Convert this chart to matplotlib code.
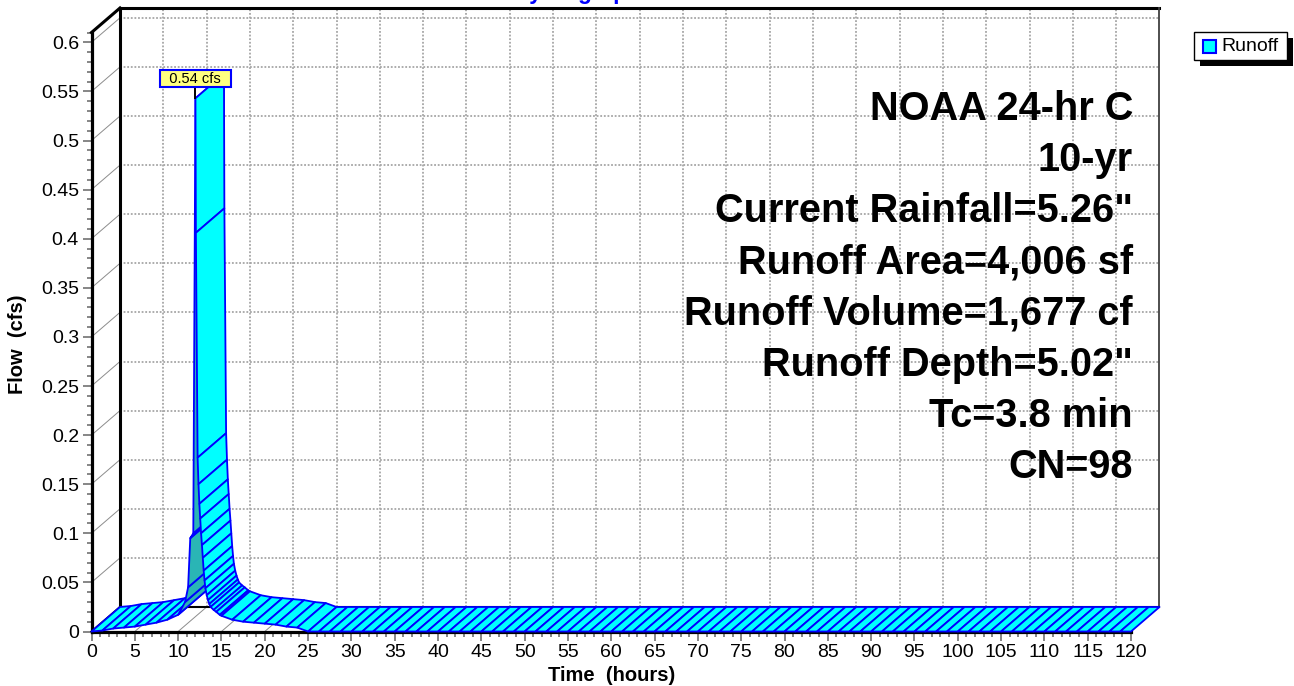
import matplotlib
matplotlib.use("Agg")
import matplotlib.pyplot as plt
from matplotlib.patches import Polygon, Rectangle
from matplotlib.ticker import MultipleLocator, FixedLocator
import numpy as np

plt.rcParams['font.family'] = ['Liberation Sans', 'DejaVu Sans']

# ---------------- data ----------------
time_hr = [0, 1.25, 2.5, 3.75, 5, 6.25, 7.5, 8.75, 10, 10.8, 11.15, 11.4, 11.75,
           12.0, 12.05, 12.25, 12.35, 12.45, 12.55, 12.65, 12.75, 12.85, 12.95,
           13.05, 13.15, 13.3, 13.45, 13.6, 13.75, 14.1, 14.4, 14.8, 15.0,
           16.25, 17.5, 18.75, 20, 21.25, 22.5, 23.75, 25,
           26.25, 27.5, 28.75, 30, 31.25, 32.5, 33.75, 35, 36.25, 37.5, 38.75,
           40, 41.25, 42.5, 43.75, 45, 46.25, 47.5, 48.75, 50, 51.25, 52.5,
           53.75, 55, 56.25, 57.5, 58.75, 60, 61.25, 62.5, 63.75, 65, 66.25,
           67.5, 68.75, 70, 71.25, 72.5, 73.75, 75, 76.25, 77.5, 78.75, 80,
           81.25, 82.5, 83.75, 85, 86.25, 87.5, 88.75, 90, 91.25, 92.5, 93.75,
           95, 96.25, 97.5, 98.75, 100, 101.25, 102.5, 103.75, 105, 106.25,
           107.5, 108.75, 110, 111.25, 112.5, 113.75, 115, 116.25, 117.5,
           118.75, 120]
flow_cfs = [0.0, 0.001, 0.003, 0.004, 0.005, 0.007, 0.009, 0.012, 0.017, 0.030,
            0.045, 0.095, 0.100,
            0.543, 0.406, 0.177, 0.150, 0.130, 0.115, 0.100, 0.088, 0.075, 0.062,
            0.052, 0.044, 0.037, 0.032, 0.028, 0.025, 0.022, 0.020, 0.017, 0.016,
            0.012, 0.010, 0.009, 0.008, 0.007, 0.005, 0.004, 0.0,
            0, 0, 0, 0, 0, 0, 0, 0, 0, 0, 0,
            0, 0, 0, 0, 0, 0, 0, 0, 0, 0, 0,
            0, 0, 0, 0, 0, 0, 0, 0, 0, 0, 0,
            0, 0, 0, 0, 0, 0, 0, 0, 0, 0, 0,
            0, 0, 0, 0, 0, 0, 0, 0, 0, 0, 0,
            0, 0, 0, 0, 0, 0, 0, 0, 0, 0, 0,
            0, 0, 0, 0, 0, 0, 0, 0, 0, 0]

x_ticks = [0, 5, 10, 15, 20, 25, 30, 35, 40, 45, 50, 55, 60, 65, 70, 75, 80,
           85, 90, 95, 100, 105, 110, 115, 120]
x_tick_labels = [str(v) for v in x_ticks]
y_ticks = [0, 0.05, 0.1, 0.15, 0.2, 0.25, 0.3, 0.35, 0.4, 0.45, 0.5, 0.55, 0.6]
y_tick_labels = ['0', '0.05', '0.1', '0.15', '0.2', '0.25', '0.3', '0.35',
                 '0.4', '0.45', '0.5', '0.55', '0.6']

peak_label = '0.54 cfs'
series_name = 'Runoff'
info_lines = ['NOAA 24-hr C', '10-yr', 'Current Rainfall=5.26"',
              'Runoff Area=4,006 sf', 'Runoff Volume=1,677 cf',
              'Runoff Depth=5.02"', 'Tc=3.8 min', 'CN=98']
title_text = 'Hydrograph'
x_label = 'Time  (hours)'
y_label = 'Flow  (cfs)'

# ---------------- style / layout ----------------
W, H = 1294, 686
CYAN = '#00FFFF'
SHADE = '#2AB5B5'
BLUE = '#0000FF'
GRIDC = '#a6a6a6'
X_MAX, Y_MAX = 120, 0.61
DX, DY = 3.29, 0.02495   # depth offset of back wall, in data units

fig = plt.figure(figsize=(W / 100, H / 100), dpi=100)
fig.patch.set_facecolor('white')
ax_left, ax_right, ax_top, ax_bot = 91.5, 1131.0, 32.5, 631.5
ax = fig.add_axes([ax_left / W, (H - ax_bot) / H,
                   (ax_right - ax_left) / W, (ax_bot - ax_top) / H])
ax.set_xlim(0, X_MAX)
ax.set_ylim(0, Y_MAX)
ax.patch.set_visible(False)

# back wall
ax.add_patch(Rectangle((DX, DY), X_MAX, Y_MAX, fc='white', ec='none',
                       zorder=0, clip_on=False))
for t in x_ticks[1:-1]:
    ax.plot([t + DX, t + DX], [DY, Y_MAX + DY], color=GRIDC, lw=1.3,
            ls=(0, (1, 1)), zorder=1, clip_on=False)
for f in y_ticks[1:]:
    ax.plot([DX, X_MAX + DX], [f + DY, f + DY], color=GRIDC, lw=1.3,
            ls=(0, (1, 1)), zorder=1, clip_on=False)
# connectors from front ticks to back wall
for f in y_ticks[1:]:
    ax.plot([0, DX], [f, f + DY], color='#8c8c8c', lw=0.7, zorder=1, clip_on=False)
for t in x_ticks[1:-1]:
    ax.plot([t, t + DX], [0, DY], color='#8c8c8c', lw=0.7, zorder=1, clip_on=False)
# back wall frame
ax.plot([DX, DX], [DY, Y_MAX + DY], color='black', lw=2.2, zorder=2, clip_on=False)
ax.plot([DX, X_MAX + DX], [Y_MAX + DY, Y_MAX + DY], color='black', lw=2.2,
        zorder=2, clip_on=False)
ax.plot([X_MAX + DX, X_MAX + DX], [DY, Y_MAX + DY], color='#404040', lw=1.3,
        zorder=2, clip_on=False)
ax.plot([DX, X_MAX + DX], [DY, DY], color='black', lw=1.5, zorder=2, clip_on=False)
ax.plot([0, DX], [Y_MAX, Y_MAX + DY], color='black', lw=2.2, zorder=2, clip_on=False)
ax.plot([0, DX], [0, DY], color='black', lw=1.5, zorder=2, clip_on=False)

# axes styling
for s in ['top', 'right']:
    ax.spines[s].set_visible(False)
for s in ['left', 'bottom']:
    ax.spines[s].set_linewidth(2.3)
    ax.spines[s].set_color('black')
ax.xaxis.set_major_locator(FixedLocator(x_ticks))
ax.set_xticklabels(x_tick_labels)
ax.xaxis.set_minor_locator(MultipleLocator(1))
ax.yaxis.set_major_locator(FixedLocator(y_ticks))
ax.set_yticklabels(y_tick_labels)
ax.yaxis.set_minor_locator(MultipleLocator(0.01))
ax.tick_params(which='major', length=6.5, width=1.1, color='#666666',
               labelsize=14, pad=2.5)
ax.tick_params(which='minor', length=3.8, width=1.1, color='#666666')
ax.set_xlabel(x_label, fontsize=14.5, fontweight='bold')
ax.set_ylabel(y_label, fontsize=14.5, fontweight='bold')
ax.xaxis.set_label_coords(0.5, -0.058)
ax.yaxis.set_label_coords(-0.062, 0.48)

# ribbon hydrograph
T = np.asarray(time_hr, dtype=float)
F = np.asarray(flow_cfs, dtype=float)
to_px = ax.transData.transform
for i in range(len(T) - 1):
    p0 = (T[i], F[i])
    p1 = (T[i + 1], F[i + 1])
    q = [p0, p1, (T[i + 1] + DX, F[i + 1] + DY), (T[i] + DX, F[i] + DY)]
    a = to_px(p0)
    sv = to_px(p1) - a
    dv = to_px((T[i] + DX, F[i] + DY)) - a
    cross = sv[0] * dv[1] - sv[1] * dv[0]
    face = CYAN if cross >= 0 else SHADE
    ax.add_patch(Polygon(q, closed=True, fc=face, ec=BLUE, lw=1.3,
                         joinstyle='round', zorder=3, clip_on=False))

# peak label
ip = int(np.argmax(F))
tp, fp = T[ip], F[ip]
ax.plot([tp, tp], [fp, fp + 0.0112], color='black', lw=1.4, zorder=4, clip_on=False)
ax.annotate('  ' + peak_label + '  ', xy=(tp, fp), xytext=(0, 9.2),
            textcoords='offset points', ha='center', va='bottom', fontsize=10.5,
            zorder=5, annotation_clip=False,
            bbox=dict(boxstyle='square,pad=0.1', fc='#FFFF80', ec=BLUE, lw=1.5))

# info text block
for k, line in enumerate(info_lines):
    yb = 120 + 51.1 * k
    fig.text(1133 / W, 1 - yb / H, line, ha='right', va='baseline',
             fontsize=28.6, fontweight='bold', color='black', zorder=6)

# title (mostly cut off at the top, as in the original)
fig.text(577 / W, 1 + 1.5 / H, title_text, ha='center', va='baseline',
         fontsize=16.3, fontweight='bold', color=BLUE)

# legend
def fr(x, y):
    return (x / W, 1 - y / H)

fig.add_artist(Rectangle(fr(1200, 66), 93 / W, 28 / H, transform=fig.transFigure,
                         fc='black', ec='none', zorder=7))
fig.add_artist(Rectangle(fr(1194, 60), 93 / W, 28 / H, transform=fig.transFigure,
                         fc='white', ec='black', lw=1, zorder=8))
fig.add_artist(Rectangle(fr(1203, 53), 13 / W, 13 / H, transform=fig.transFigure,
                         fc=CYAN, ec=BLUE, lw=1.5, zorder=9))
fig.text(1221 / W, 1 - 46.5 / H, series_name, ha='left', va='center',
         fontsize=14, zorder=9)

fig.savefig('out.png', dpi=100, facecolor='white')
